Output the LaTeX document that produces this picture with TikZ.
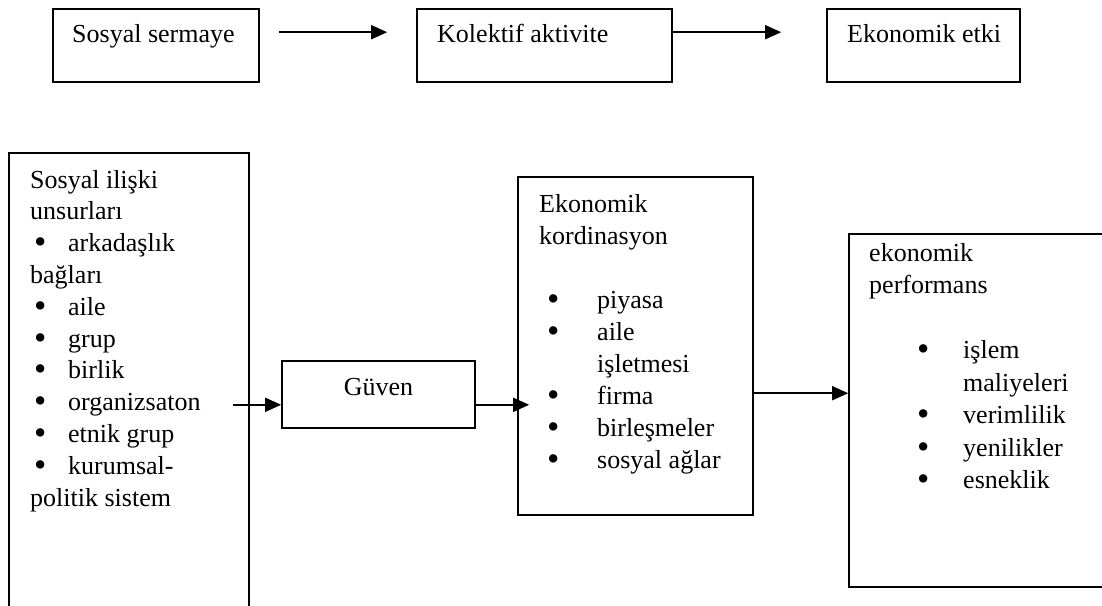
\documentclass[tikz,border=0pt]{standalone}
\usepackage{fontspec}
\usepackage{graphicx}
\setmainfont{Liberation Serif}
\usetikzlibrary{arrows.meta,calc}
% a slightly heavier bullet
\newcommand{\bdot}{\raisebox{-0.08em}{\scalebox{1.35}{\textbullet}}}
% one bulleted line: #1 bullet offset, #2 text offset, #3 text
\newcommand{\bline}[3]{\hbox{\makebox[#2][l]{\hspace{#1}\bdot}#3}}
% an indented line without bullet
\newcommand{\iline}[2]{\hbox{\hspace{#1}#2}}

\begin{document}
\begin{tikzpicture}[x=1pt,y=-1pt,
  frame/.style={draw, line width=1.6pt, rectangle, inner sep=0pt},
  txt/.style={anchor=base west, inner sep=0pt, font=\fontsize{26}{32}\selectfont},
  arr/.style={line width=1.6pt, -{Triangle[length=16pt,width=14pt]}}]
\useasboundingbox (0,0) rectangle (1102,605);
\clip (0,0) rectangle (1102,605);

% top chain
\node[frame, minimum width=206pt, minimum height=73pt] (b1) at (156,45.5) {};
\node[frame, minimum width=255pt, minimum height=73pt] (b2) at (544.5,45.5) {};
\node[frame, minimum width=193pt, minimum height=73pt] (b3) at (923.5,45.5) {};
\node[txt] (t1) at (72,42) {Sosyal sermaye};
\node[txt] (t2) at (437,42) {Kolektif aktivite};
\node[txt] (t3) at (847,42) {Ekonomik etki};
\draw[arr] ($(b1.north east)+(19,24)$) -- ($(b2.north west)+(-29,24)$);
\draw[arr] ($(b2.north east)+(0,24)$) -- ($(b3.north west)+(-45,24)$);

% lower chain
\node[frame, minimum width=240pt, minimum height=487pt] (lb) at (129,396.5) {};
\node[frame, minimum width=193pt, minimum height=67pt] (g) at (378.5,394.5) {};
\node[frame, minimum width=235pt, minimum height=338pt] (mb) at (635.5,346) {};
\node[frame, minimum width=271pt, minimum height=353pt] (rb) at (984.5,410.5) {};

\node[txt] (tl) at (30,188) {\vtop{\baselineskip=31.8pt
  \hbox{Sosyal ilişki}
  \hbox{unsurları}
  \bline{4pt}{38pt}{arkadaşlık}
  \hbox{bağları}
  \bline{4pt}{38pt}{aile}
  \bline{4pt}{38pt}{grup}
  \bline{4pt}{38pt}{birlik}
  \bline{4pt}{38pt}{organizsaton}
  \bline{4pt}{38pt}{etnik grup}
  \bline{4pt}{38pt}{kurumsal-}
  \hbox{politik sistem}}};

\node[txt, anchor=base] (tg) at (378.5,395) {Güven};

\node[txt] (tm) at (539,212) {\vtop{\baselineskip=32pt
  \hbox{Ekonomik}
  \hbox{kordinasyon}
  \hbox{}
  \bline{8pt}{58pt}{piyasa}
  \bline{8pt}{58pt}{aile}
  \iline{58pt}{işletmesi}
  \bline{8pt}{58pt}{firma}
  \bline{8pt}{58pt}{birleşmeler}
  \bline{8pt}{58pt}{sosyal ağlar}}};

\node[txt] (tr) at (869,261) {\vtop{\baselineskip=32.5pt
  \hbox{ekonomik}
  \hbox{performans}
  \hbox{}
  \bline{48pt}{94pt}{işlem}
  \iline{94pt}{maliyeleri}
  \bline{48pt}{94pt}{verimlilik}
  \bline{48pt}{94pt}{yenilikler}
  \bline{48pt}{94pt}{esneklik}}};

\draw[arr] ($(lb.east |- g.south)+(-17,-24)$) -- ($(g.south west)+(0,-24)$);
\draw[arr] ($(g.south east)+(0,-24)$) -- ($(mb.west |- g.south)+(12,-24)$);
\draw[arr] ($(mb.north east)+(0,217)$) -- ($(rb.north west)+(0,160)$);
\end{tikzpicture}
\end{document}
